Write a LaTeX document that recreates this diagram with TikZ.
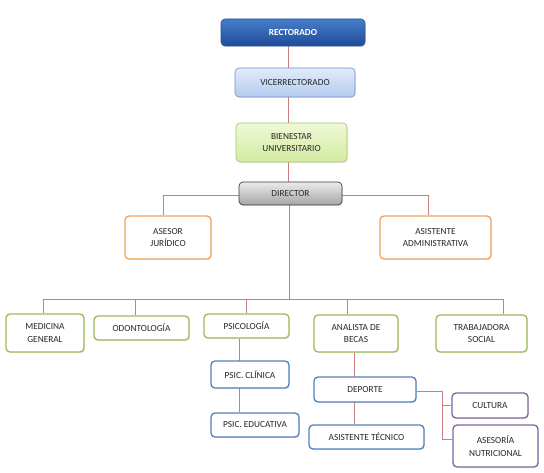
\documentclass[tikz,border=0pt]{standalone}
\usepackage{fontspec}
\setmainfont{Carlito}
\usetikzlibrary{shadows,backgrounds}
\definecolor{conn}{RGB}{205,125,130}
\definecolor{orbox}{RGB}{243,160,90}
\definecolor{grbox}{RGB}{155,187,89}
\definecolor{blbox}{RGB}{79,129,189}
\definecolor{pubox}{RGB}{128,100,162}
\definecolor{txt}{RGB}{40,40,40}
\tikzset{
  basebox/.style={rounded corners=4pt, align=center, inner sep=1pt, text=txt,
    font=\fontsize{9.3}{12.5}\selectfont,
    drop shadow={shadow xshift=0.8pt, shadow yshift=-1pt, opacity=0.2}},
  orangebox/.style={basebox, draw=orbox, line width=1.3pt, fill=white},
  greenbox/.style={basebox, draw=grbox, line width=1.3pt, fill=white},
  bluebox/.style={basebox, draw=blbox, line width=1.3pt, fill=white},
  purplebox/.style={basebox, draw=pubox, line width=1.3pt, fill=white},
  rectbox/.style={basebox, draw={rgb,255:red,40;green,80;blue,150}, line width=0.6pt,
    top color={rgb,255:red,70;green,125;blue,200}, bottom color={rgb,255:red,30;green,75;blue,155},
    text=white, font=\fontsize{9.3}{12}\selectfont\bfseries},
  vicebox/.style={basebox, draw={rgb,255:red,110;green,145;blue,205}, line width=0.6pt,
    top color={rgb,255:red,225;green,235;blue,250}, bottom color={rgb,255:red,180;green,203;blue,240}},
  bienbox/.style={basebox, draw={rgb,255:red,165;green,200;blue,110}, line width=0.6pt,
    top color={rgb,255:red,240;green,248;blue,215}, bottom color={rgb,255:red,210;green,235;blue,160}},
  dirbox/.style={basebox, draw={rgb,255:red,60;green,60;blue,60}, line width=0.7pt,
    top color={rgb,255:red,235;green,235;blue,235}, bottom color={rgb,255:red,165;green,165;blue,165}},
  link/.style={draw=conn, line width=0.8pt}
}
\begin{document}
\begin{tikzpicture}[x=1pt,y=-1pt]
\useasboundingbox (0,0) rectangle (544,473);
\node[rectbox, minimum width=144pt, minimum height=27pt] (rect) at (293,32.5) {RECTORADO};
\node[vicebox, minimum width=120pt, minimum height=29pt] (vice) at (295,82.5) {VICERRECTORADO};
\node[bienbox, minimum width=111pt, minimum height=39pt] (bien) at (291.5,142.5) {BIENESTAR\\UNIVERSITARIO};
\node[dirbox, minimum width=103pt, minimum height=23pt] (dir) at (290.5,193.5) {DIRECTOR};
\node[orangebox, minimum width=86pt, minimum height=43pt] (ases) at (168,237.5) {ASESOR\\JURÍDICO};
\node[orangebox, minimum width=111pt, minimum height=43pt] (asis) at (435.5,237.5) {ASISTENTE\\ADMINISTRATIVA};
\node[greenbox, minimum width=78pt, minimum height=38pt] (med) at (45,333) {MEDICINA\\GENERAL};
\node[greenbox, minimum width=95pt, minimum height=24pt] (odo) at (141.5,328) {ODONTOLOGÍA};
\node[greenbox, minimum width=85pt, minimum height=24pt] (psi) at (246.5,326) {PSICOLOGÍA};
\node[greenbox, minimum width=84pt, minimum height=37pt] (anal) at (356,333.5) {ANALISTA DE\\BECAS};
\node[greenbox, minimum width=91pt, minimum height=37pt] (trab) at (481.5,333.5) {TRABAJADORA\\SOCIAL};
\node[bluebox, minimum width=78pt, minimum height=27pt] (clin) at (250,374.5) {PSIC. CLÍNICA};
\node[bluebox, minimum width=88pt, minimum height=24pt] (edu) at (255,425) {PSIC. EDUCATIVA};
\node[bluebox, minimum width=102pt, minimum height=25pt] (dep) at (365,389.5) {DEPORTE};
\node[bluebox, minimum width=115pt, minimum height=24pt] (asist) at (366.5,437) {ASISTENTE TÉCNICO};
\node[purplebox, minimum width=76pt, minimum height=25pt] (cult) at (490,405.5) {CULTURA};
\node[purplebox, minimum width=85pt, minimum height=42pt] (nutr) at (495.5,446) {ASESORÍA\\NUTRICIONAL};
\coordinate (sp) at (288,0);
\coordinate (bus) at (289,299);
\coordinate (psx) at (239,0);
\coordinate (anx) at (354,0);
\coordinate (jn) at (442,0);
\begin{scope}[on background layer]
\draw[link] (rect.south -| sp) -- (dir.north -| sp);
\draw[link] ([yshift=-1.5pt]dir.west) -| ([xshift=-5pt]ases.north);
\draw[link] ([yshift=-1.5pt]dir.east) -| ([xshift=-7pt]asis.north);
\draw[link] (dir.south -| bus) -- (bus);
\draw[link] (bus) -| ([xshift=-2pt]med.north);
\draw[link] (bus) -| ([xshift=-6.5pt]odo.north);
\draw[link] (bus) -| (psi.north);
\draw[link] (bus) -| ([xshift=-9pt]anal.north);
\draw[link] (bus) -| ([xshift=21.5pt]trab.north);
\draw[link] (psi.south -| psx) -- (edu.north -| psx);
\draw[link] (anal.south -| anx) -- (asist.north -| anx);
\draw[link] ([yshift=-1.5pt]dep.east) -| (jn |- cult.west) -- (cult.west);
\draw[link] (jn |- cult.west) |- ([yshift=7pt]nutr.west);
\end{scope}
\end{tikzpicture}
\end{document}
